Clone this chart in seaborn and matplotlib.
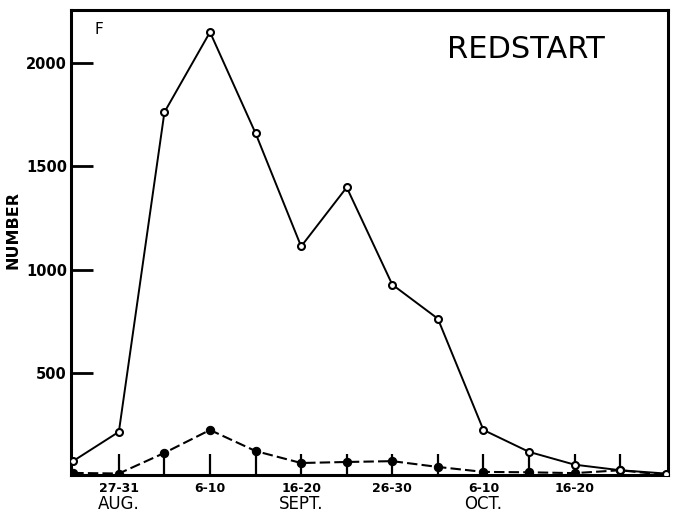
import matplotlib
matplotlib.use("Agg")
import matplotlib.pyplot as plt
import matplotlib.transforms as mtransforms
import seaborn as sns
import pandas as pd
import numpy as np

# ---- data ----
periods = ["22-26 Aug", "27-31 Aug", "1-5 Sept", "6-10 Sept", "11-15 Sept",
           "16-20 Sept", "21-25 Sept", "26-30 Sept", "1-5 Oct", "6-10 Oct",
           "11-15 Oct", "16-20 Oct", "21-25 Oct", "26-30 Oct"]
open_counts = [73, 214, 1762, 2150, 1660, 1112, 1398, 927, 762, 223, 117, 55, 28, 12]
filled_counts = [15, 12, 112, 223, 121, 63, 68, 72, 44, 20, 18, 14, 28, 5]
tick_labels = ["27-31", "", "6-10", "", "16-20", "", "26-30", "", "6-10", "", "16-20", ""]
months = ["AUG.", "SEPT.", "OCT."]
month_pos = [1, 5, 9]
y_ticks = [500, 1000, 1500, 2000]

sns.set_theme(style="white")
plt.rcParams["font.family"] = ["DejaVu Sans"]

df = pd.DataFrame({"pos": np.arange(len(periods)), "period": periods,
                   "open": open_counts, "filled": filled_counts})

fig = plt.figure(figsize=(6.75, 5.13), dpi=100)
ax = fig.add_axes([0.1052, 0.0741, 0.8844, 0.9064])

sns.lineplot(data=df, x="pos", y="filled", ax=ax, color="black", lw=1.5,
             marker="o", markersize=6, markerfacecolor="black",
             markeredgecolor="black", zorder=3)
ax.lines[-1].set_dashes((5, 2))
sns.lineplot(data=df, x="pos", y="open", ax=ax, color="black", lw=1.4,
             marker="o", markersize=5, markerfacecolor="white",
             markeredgecolor="black", markeredgewidth=1.5, zorder=4)

ax.set_xlim(-0.05, 13.05)
ax.set_ylim(5, 2257)

ax.set_xticks(range(1, 13))
ax.set_xticklabels(tick_labels, fontsize=9, fontweight="bold")
ax.tick_params(axis="x", direction="in", length=15, width=1.6,
               color="black", bottom=True, pad=5, labelcolor="black")

trans = mtransforms.blended_transform_factory(ax.transData, ax.transAxes)
for m, p in zip(months, month_pos):
    ax.text(p, -0.062, m, transform=trans, ha="center", va="center",
            fontsize=12, color="black")

ax.set_yticks(y_ticks)
ax.set_yticklabels([str(v) for v in y_ticks], fontsize=10.5, fontweight="bold")
ax.tick_params(axis="y", direction="in", length=16, width=2, color="black",
               left=True, pad=3, labelcolor="black")

ax.set_xlabel("")
ax.set_ylabel("NUMBER", fontsize=11.5, fontweight="bold", color="black")
ax.yaxis.set_label_coords(-0.085, 0.527)

for s in ax.spines.values():
    s.set_visible(True)
    s.set_color("black")
    s.set_linewidth(2.2)

ax.text(0.04, 0.975, "F", transform=ax.transAxes, fontsize=11,
        va="top", ha="left", color="black")
ax.text(0.762, 0.914, "REDSTART", transform=ax.transAxes, fontsize=22,
        va="center", ha="center", color="black")

fig.savefig("out.png", dpi=100)
